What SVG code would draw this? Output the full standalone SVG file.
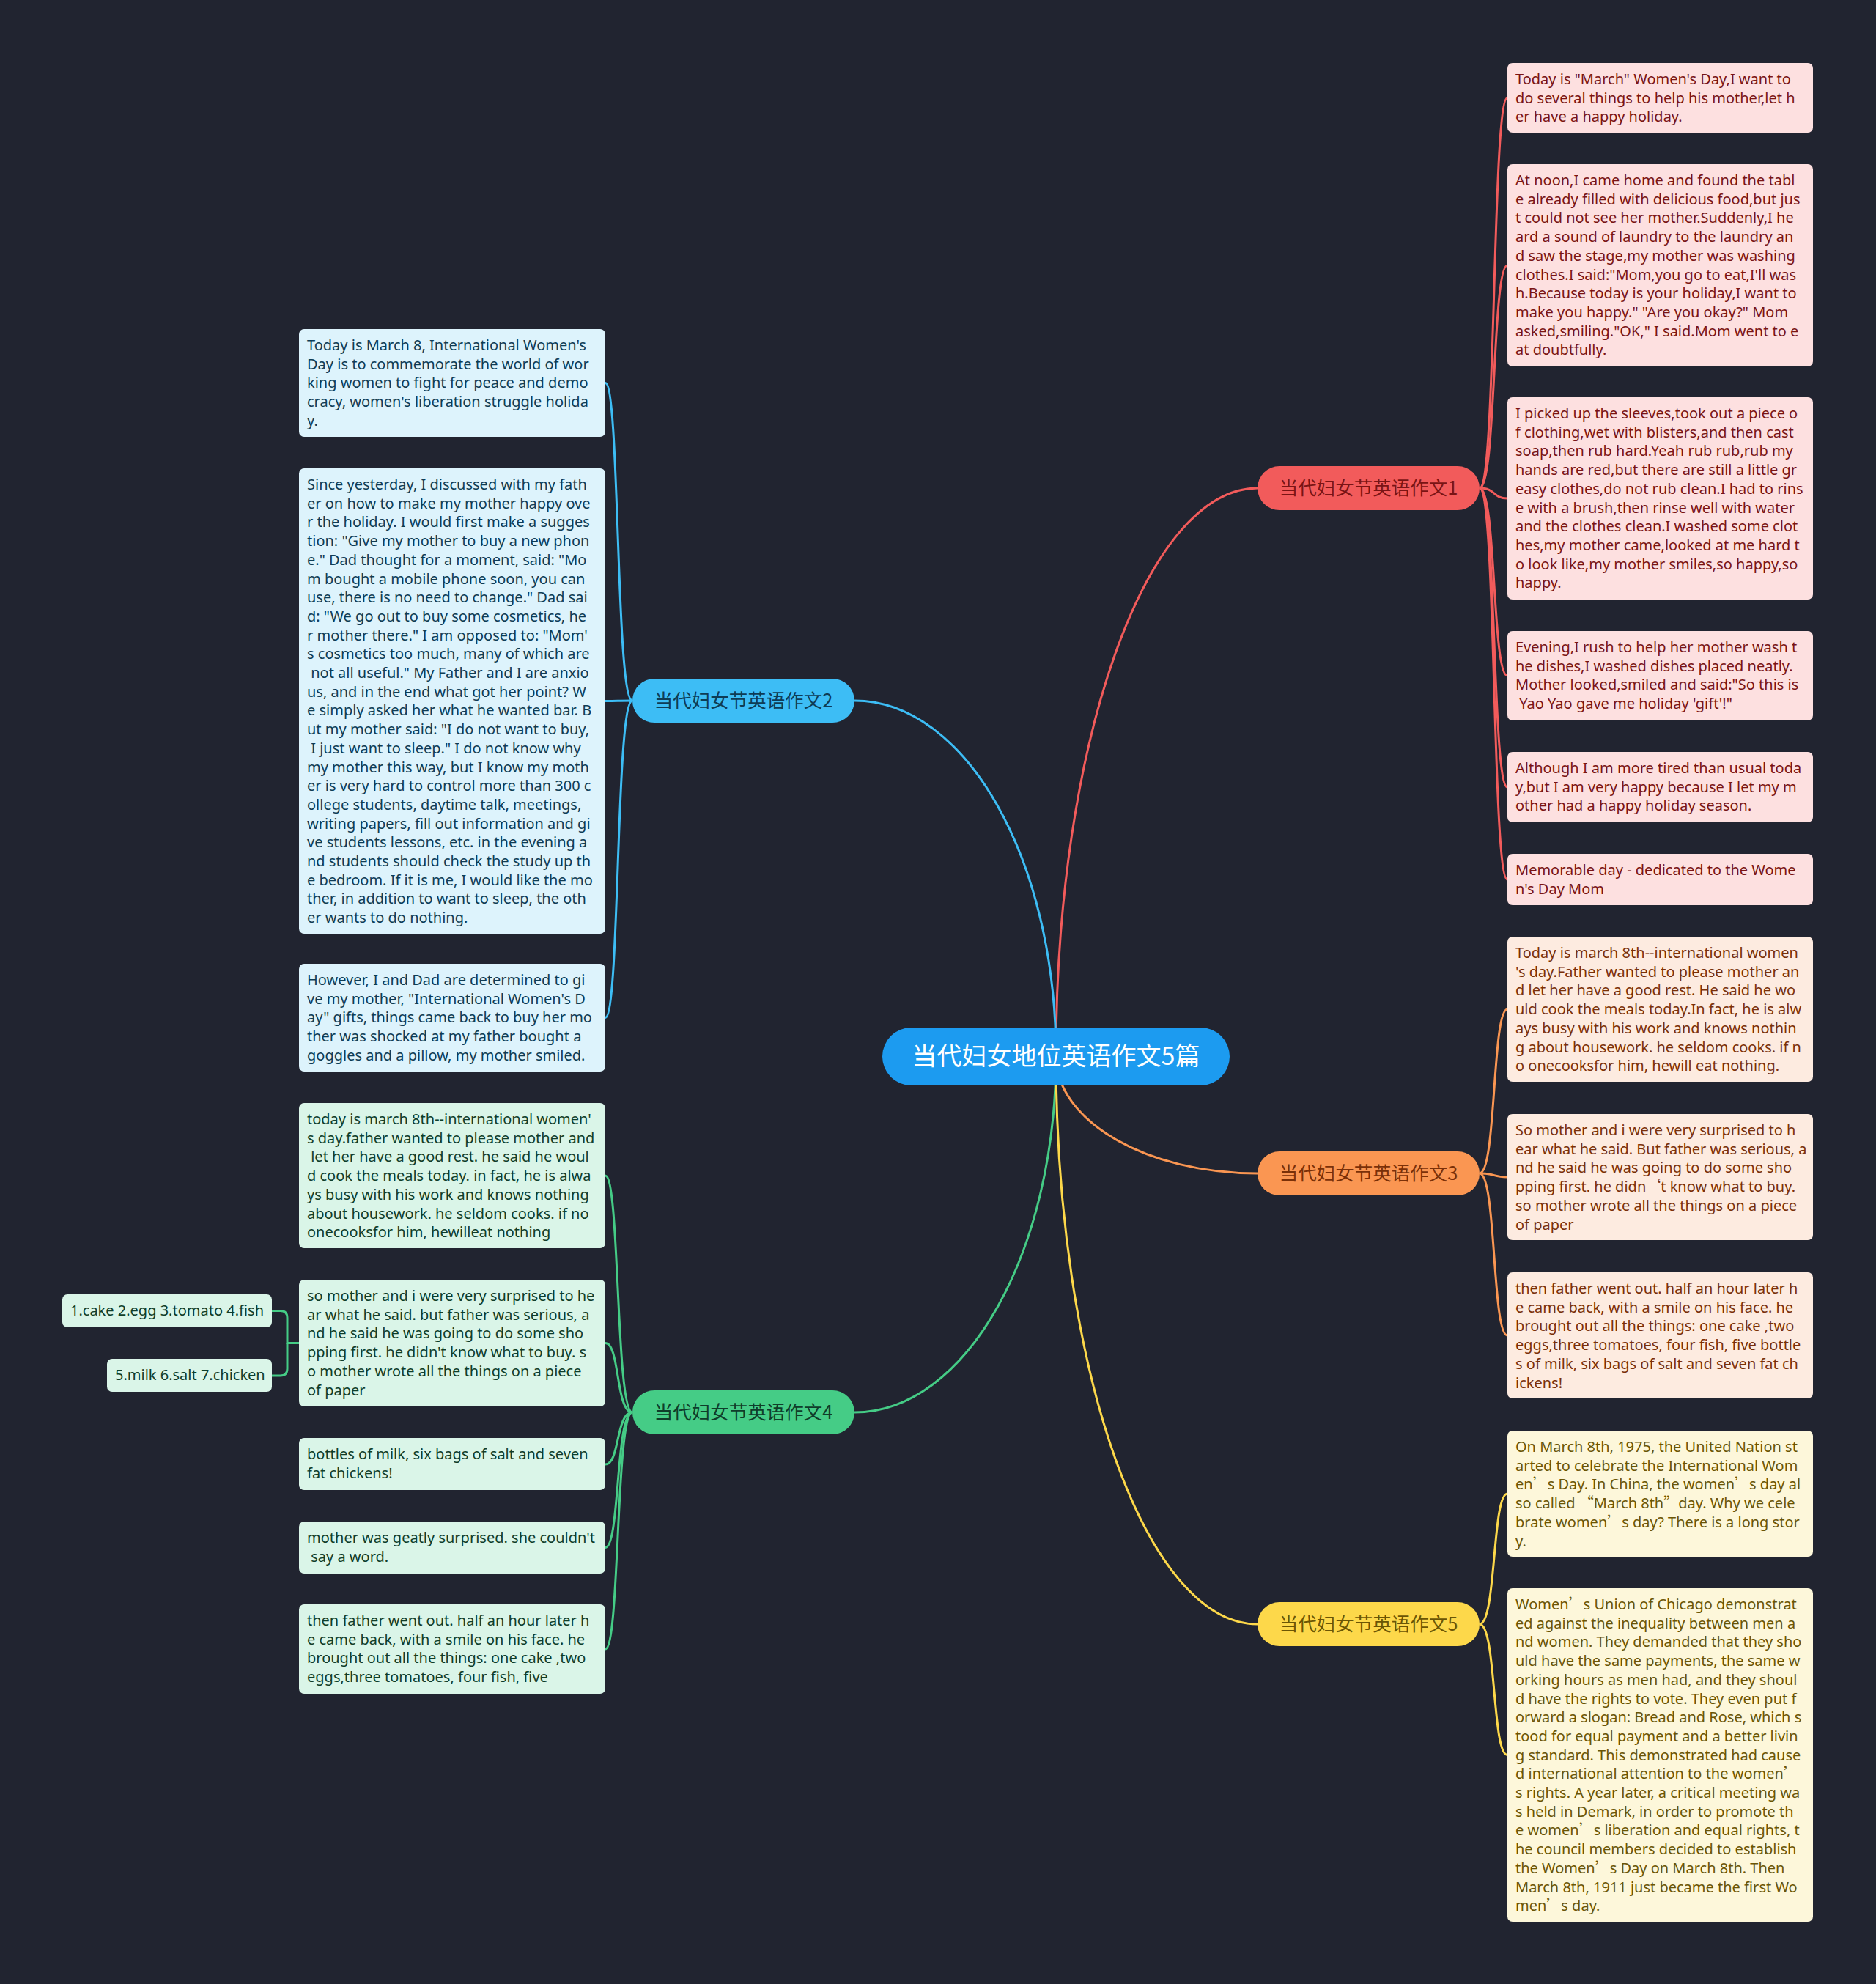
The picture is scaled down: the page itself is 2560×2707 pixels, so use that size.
<svg xmlns="http://www.w3.org/2000/svg" width="2560" height="2707" viewBox="0 0 2560 2707">
<style>
.t{font-family:"Noto Sans","Liberation Sans",sans-serif;font-size:20px}
.q{font-family:"Noto Sans CJK SC","Noto Sans",sans-serif}
.nt{font-family:"Noto Sans CJK SC","Noto Sans",sans-serif;font-size:25.5px;text-anchor:middle}
.ln{fill:none;stroke-width:3}
.r .card{fill:#fde0e0}.r text{fill:#7a1414}
.b .card{fill:#ddf3fc}.b text{fill:#0e3c55}
.o .card{fill:#fdebe0}.o text{fill:#7a3008}
.g .card{fill:#daf5e8}.g text{fill:#0f3d2a}
.y .card{fill:#fdf7da}.y text{fill:#6b5504}
</style>
<rect width="2560" height="2707" fill="#212430"/>
<g id="connectors" class="ln">
<path d="M1441,1441 C1441,1013 1564,666 1716,666" stroke="#f25b5b"/>
<path d="M1441,1441 C1441,1173 1318,956 1166,956" stroke="#3dbdf5"/>
<path d="M1441,1441 C1441,1529 1564,1601 1716,1601" stroke="#fa9652"/>
<path d="M1441,1441 C1441,1709 1318,1927 1166,1927" stroke="#45cc86"/>
<path d="M1441,1441 C1441,1869 1564,2216 1716,2216" stroke="#fdd84a"/>
<g stroke="#f25b5b">
<path d="M2019,666 C2042,666 2036,133.5 2057,133.5"/>
<path d="M2019,666 C2042,666 2036,362 2057,362"/>
<path d="M2019,666 C2042,666 2036,680 2057,680"/>
<path d="M2019,666 C2042,666 2036,922 2057,922"/>
<path d="M2019,666 C2042,666 2036,1074 2057,1074"/>
<path d="M2019,666 C2042,666 2036,1200 2057,1200"/>
</g>
<g stroke="#fa9652">
<path d="M2019,1601 C2042,1601 2036,1377 2057,1377"/>
<path d="M2019,1601 C2042,1601 2036,1606 2057,1606"/>
<path d="M2019,1601 C2042,1601 2036,1822 2057,1822"/>
</g>
<g stroke="#fdd84a">
<path d="M2019,2216 C2042,2216 2036,2038 2057,2038"/>
<path d="M2019,2216 C2042,2216 2036,2394.5 2057,2394.5"/>
</g>
<g stroke="#3dbdf5">
<path d="M863,956 C840,956 846,522.5 826,522.5"/>
<path d="M863,956 C840,956 846,956.5 826,956.5"/>
<path d="M863,956 C840,956 846,1388.5 826,1388.5"/>
</g>
<g stroke="#45cc86">
<path d="M863,1927 C840,1927 846,1604 826,1604"/>
<path d="M863,1927 C840,1927 846,1832.5 826,1832.5"/>
<path d="M863,1927 C840,1927 846,1998 826,1998"/>
<path d="M863,1927 C840,1927 846,2111.5 826,2111.5"/>
<path d="M863,1927 C840,1927 846,2250 826,2250"/>
<path d="M408,1832.5 L392,1832.5 L392,1798 Q392,1788.5 382.5,1788.5 L371,1788.5"/>
<path d="M392,1832.5 L392,1867.5 Q392,1877 382.5,1877 L371,1877"/>
</g>
</g>

<g id="center">
<rect x="1204" y="1402" width="474" height="79" rx="39.5" fill="#1c9bf0"/>
<text x="1441" y="1453" font-family="Noto Sans CJK SC, Noto Sans, sans-serif" font-size="34" fill="#ffffff" text-anchor="middle">当代妇女地位英语作文5篇</text>
</g>

<g id="branch1" class="r">
<rect x="1716" y="636" width="303" height="60" rx="30" fill="#f25b5b"/>
<text class="nt" x="1867.5" y="675">当代妇女节英语作文1</text>
</g>
<g id="branch2" class="b">
<rect x="863" y="926" width="303" height="60" rx="30" fill="#3dbdf5"/>
<text class="nt" x="1014.5" y="965">当代妇女节英语作文2</text>
</g>
<g id="branch3" class="o">
<rect x="1716" y="1571" width="303" height="60" rx="30" fill="#fa9652"/>
<text class="nt" x="1867.5" y="1610">当代妇女节英语作文3</text>
</g>
<g id="branch4" class="g">
<rect x="863" y="1897" width="303" height="60" rx="30" fill="#45cc86"/>
<text class="nt" x="1014.5" y="1936">当代妇女节英语作文4</text>
</g>
<g id="branch5" class="y">
<rect x="1716" y="2186" width="303" height="60" rx="30" fill="#fdd84a"/>
<text class="nt" x="1867.5" y="2225">当代妇女节英语作文5</text>
</g>

<g id="leaf1-1" class="r">
<rect class="card" x="2057" y="86" width="417" height="95" rx="7"/>
<text class="t" x="2068" y="115"><tspan x="2068">Today is "March" Women's Day,I want to</tspan><tspan x="2068" dy="25.7">do several things to help his mother,let h</tspan><tspan x="2068" dy="25.7">er have a happy holiday.</tspan></text>
</g>
<g id="leaf1-2" class="r">
<rect class="card" x="2057" y="224" width="417" height="276" rx="7"/>
<text class="t" x="2068" y="253"><tspan x="2068">At noon,I came home and found the tabl</tspan><tspan x="2068" dy="25.7">e already filled with delicious food,but jus</tspan><tspan x="2068" dy="25.7">t could not see her mother.Suddenly,I he</tspan><tspan x="2068" dy="25.7">ard a sound of laundry to the laundry an</tspan><tspan x="2068" dy="25.7">d saw the stage,my mother was washing</tspan><tspan x="2068" dy="25.7">clothes.I said:"Mom,you go to eat,I'll was</tspan><tspan x="2068" dy="25.7">h.Because today is your holiday,I want to</tspan><tspan x="2068" dy="25.7">make you happy." "Are you okay?" Mom</tspan><tspan x="2068" dy="25.7">asked,smiling."OK," I said.Mom went to e</tspan><tspan x="2068" dy="25.7">at doubtfully.</tspan></text>
</g>
<g id="leaf1-3" class="r">
<rect class="card" x="2057" y="542" width="417" height="276" rx="7"/>
<text class="t" x="2068" y="571"><tspan x="2068">I picked up the sleeves,took out a piece o</tspan><tspan x="2068" dy="25.7">f clothing,wet with blisters,and then cast</tspan><tspan x="2068" dy="25.7">soap,then rub hard.Yeah rub rub,rub my</tspan><tspan x="2068" dy="25.7">hands are red,but there are still a little gr</tspan><tspan x="2068" dy="25.7">easy clothes,do not rub clean.I had to rins</tspan><tspan x="2068" dy="25.7">e with a brush,then rinse well with water</tspan><tspan x="2068" dy="25.7">and the clothes clean.I washed some clot</tspan><tspan x="2068" dy="25.7">hes,my mother came,looked at me hard t</tspan><tspan x="2068" dy="25.7">o look like,my mother smiles,so happy,so</tspan><tspan x="2068" dy="25.7">happy.</tspan></text>
</g>
<g id="leaf1-4" class="r">
<rect class="card" x="2057" y="861" width="417" height="122" rx="7"/>
<text class="t" x="2068" y="890"><tspan x="2068">Evening,I rush to help her mother wash t</tspan><tspan x="2068" dy="25.7">he dishes,I washed dishes placed neatly.</tspan><tspan x="2068" dy="25.7">Mother looked,smiled and said:"So this is</tspan><tspan x="2068" dy="25.7">&#160;Yao Yao gave me holiday 'gift'!"</tspan></text>
</g>
<g id="leaf1-5" class="r">
<rect class="card" x="2057" y="1026" width="417" height="96" rx="7"/>
<text class="t" x="2068" y="1055"><tspan x="2068">Although I am more tired than usual toda</tspan><tspan x="2068" dy="25.7">y,but I am very happy because I let my m</tspan><tspan x="2068" dy="25.7">other had a happy holiday season.</tspan></text>
</g>
<g id="leaf1-6" class="r">
<rect class="card" x="2057" y="1165" width="417" height="70" rx="7"/>
<text class="t" x="2068" y="1194"><tspan x="2068">Memorable day - dedicated to the Wome</tspan><tspan x="2068" dy="25.7">n's Day Mom</tspan></text>
</g>

<g id="leaf3-1" class="o">
<rect class="card" x="2057" y="1278" width="417" height="198" rx="7"/>
<text class="t" x="2068" y="1307"><tspan x="2068">Today is march 8th--international women</tspan><tspan x="2068" dy="25.7">'s day.Father wanted to please mother an</tspan><tspan x="2068" dy="25.7">d let her have a good rest. He said he wo</tspan><tspan x="2068" dy="25.7">uld cook the meals today.In fact, he is alw</tspan><tspan x="2068" dy="25.7">ays busy with his work and knows nothin</tspan><tspan x="2068" dy="25.7">g about housework. he seldom cooks. if n</tspan><tspan x="2068" dy="25.7">o onecooksfor him, hewill eat nothing.</tspan></text>
</g>
<g id="leaf3-2" class="o">
<rect class="card" x="2057" y="1520" width="417" height="172" rx="7"/>
<text class="t" x="2068" y="1549"><tspan x="2068">So mother and i were very surprised to h</tspan><tspan x="2068" dy="25.7">ear what he said. But father was serious, a</tspan><tspan x="2068" dy="25.7">nd he said he was going to do some sho</tspan><tspan x="2068" dy="25.7">pping first. he didn<tspan class="q">‘</tspan>t know what to buy.</tspan><tspan x="2068" dy="25.7">so mother wrote all the things on a piece</tspan><tspan x="2068" dy="25.7">of paper</tspan></text>
</g>
<g id="leaf3-3" class="o">
<rect class="card" x="2057" y="1736" width="417" height="172" rx="7"/>
<text class="t" x="2068" y="1765"><tspan x="2068">then father went out. half an hour later h</tspan><tspan x="2068" dy="25.7">e came back, with a smile on his face. he</tspan><tspan x="2068" dy="25.7">brought out all the things: one cake ,two</tspan><tspan x="2068" dy="25.7">eggs,three tomatoes, four fish, five bottle</tspan><tspan x="2068" dy="25.7">s of milk, six bags of salt and seven fat ch</tspan><tspan x="2068" dy="25.7">ickens!</tspan></text>
</g>

<g id="leaf5-1" class="y">
<rect class="card" x="2057" y="1952" width="417" height="172" rx="7"/>
<text class="t" x="2068" y="1981"><tspan x="2068">On March 8th, 1975, the United Nation st</tspan><tspan x="2068" dy="25.7">arted to celebrate the International Wom</tspan><tspan x="2068" dy="25.7">en<tspan class="q">’</tspan>s Day. In China, the women<tspan class="q">’</tspan>s day al</tspan><tspan x="2068" dy="25.7">so called <tspan class="q">“</tspan>March 8th<tspan class="q">”</tspan>day. Why we cele</tspan><tspan x="2068" dy="25.7">brate women<tspan class="q">’</tspan>s day? There is a long stor</tspan><tspan x="2068" dy="25.7">y.</tspan></text>
</g>
<g id="leaf5-2" class="y">
<rect class="card" x="2057" y="2167" width="417" height="455" rx="7"/>
<text class="t" x="2068" y="2196"><tspan x="2068">Women<tspan class="q">’</tspan>s Union of Chicago demonstrat</tspan><tspan x="2068" dy="25.7">ed against the inequality between men a</tspan><tspan x="2068" dy="25.7">nd women. They demanded that they sho</tspan><tspan x="2068" dy="25.7">uld have the same payments, the same w</tspan><tspan x="2068" dy="25.7">orking hours as men had, and they shoul</tspan><tspan x="2068" dy="25.7">d have the rights to vote. They even put f</tspan><tspan x="2068" dy="25.7">orward a slogan: Bread and Rose, which s</tspan><tspan x="2068" dy="25.7">tood for equal payment and a better livin</tspan><tspan x="2068" dy="25.7">g standard. This demonstrated had cause</tspan><tspan x="2068" dy="25.7">d international attention to the women<tspan class="q">’</tspan></tspan><tspan x="2068" dy="25.7">s rights. A year later, a critical meeting wa</tspan><tspan x="2068" dy="25.7">s held in Demark, in order to promote th</tspan><tspan x="2068" dy="25.7">e women<tspan class="q">’</tspan>s liberation and equal rights, t</tspan><tspan x="2068" dy="25.7">he council members decided to establish</tspan><tspan x="2068" dy="25.7">the Women<tspan class="q">’</tspan>s Day on March 8th. Then</tspan><tspan x="2068" dy="25.7">March 8th, 1911 just became the first Wo</tspan><tspan x="2068" dy="25.7">men<tspan class="q">’</tspan>s day.</tspan></text>
</g>

<g id="leaf2-1" class="b">
<rect class="card" x="408" y="449" width="418" height="147" rx="7"/>
<text class="t" x="419" y="478"><tspan x="419">Today is March 8, International Women's</tspan><tspan x="419" dy="25.7">Day is to commemorate the world of wor</tspan><tspan x="419" dy="25.7">king women to fight for peace and demo</tspan><tspan x="419" dy="25.7">cracy, women's liberation struggle holida</tspan><tspan x="419" dy="25.7">y.</tspan></text>
</g>
<g id="leaf2-2" class="b">
<rect class="card" x="408" y="639" width="418" height="635" rx="7"/>
<text class="t" x="419" y="668"><tspan x="419">Since yesterday, I discussed with my fath</tspan><tspan x="419" dy="25.7">er on how to make my mother happy ove</tspan><tspan x="419" dy="25.7">r the holiday. I would first make a sugges</tspan><tspan x="419" dy="25.7">tion: "Give my mother to buy a new phon</tspan><tspan x="419" dy="25.7">e." Dad thought for a moment, said: "Mo</tspan><tspan x="419" dy="25.7">m bought a mobile phone soon, you can</tspan><tspan x="419" dy="25.7">use, there is no need to change." Dad sai</tspan><tspan x="419" dy="25.7">d: "We go out to buy some cosmetics, he</tspan><tspan x="419" dy="25.7">r mother there." I am opposed to: "Mom'</tspan><tspan x="419" dy="25.7">s cosmetics too much, many of which are</tspan><tspan x="419" dy="25.7">&#160;not all useful." My Father and I are anxio</tspan><tspan x="419" dy="25.7">us, and in the end what got her point? W</tspan><tspan x="419" dy="25.7">e simply asked her what he wanted bar. B</tspan><tspan x="419" dy="25.7">ut my mother said: "I do not want to buy,</tspan><tspan x="419" dy="25.7">&#160;I just want to sleep." I do not know why</tspan><tspan x="419" dy="25.7">my mother this way, but I know my moth</tspan><tspan x="419" dy="25.7">er is very hard to control more than 300 c</tspan><tspan x="419" dy="25.7">ollege students, daytime talk, meetings,</tspan><tspan x="419" dy="25.7">writing papers, fill out information and gi</tspan><tspan x="419" dy="25.7">ve students lessons, etc. in the evening a</tspan><tspan x="419" dy="25.7">nd students should check the study up th</tspan><tspan x="419" dy="25.7">e bedroom. If it is me, I would like the mo</tspan><tspan x="419" dy="25.7">ther, in addition to want to sleep, the oth</tspan><tspan x="419" dy="25.7">er wants to do nothing.</tspan></text>
</g>
<g id="leaf2-3" class="b">
<rect class="card" x="408" y="1315" width="418" height="147" rx="7"/>
<text class="t" x="419" y="1344"><tspan x="419">However, I and Dad are determined to gi</tspan><tspan x="419" dy="25.7">ve my mother, "International Women's D</tspan><tspan x="419" dy="25.7">ay" gifts, things came back to buy her mo</tspan><tspan x="419" dy="25.7">ther was shocked at my father bought a</tspan><tspan x="419" dy="25.7">goggles and a pillow, my mother smiled.</tspan></text>
</g>

<g id="leaf4-1" class="g">
<rect class="card" x="408" y="1505" width="418" height="198" rx="7"/>
<text class="t" x="419" y="1534"><tspan x="419">today is march 8th--international women'</tspan><tspan x="419" dy="25.7">s day.father wanted to please mother and</tspan><tspan x="419" dy="25.7">&#160;let her have a good rest. he said he woul</tspan><tspan x="419" dy="25.7">d cook the meals today. in fact, he is alwa</tspan><tspan x="419" dy="25.7">ys busy with his work and knows nothing</tspan><tspan x="419" dy="25.7">about housework. he seldom cooks. if no</tspan><tspan x="419" dy="25.7">onecooksfor him, hewilleat nothing</tspan></text>
</g>
<g id="leaf4-2" class="g">
<rect class="card" x="408" y="1746" width="418" height="173" rx="7"/>
<text class="t" x="419" y="1775"><tspan x="419">so mother and i were very surprised to he</tspan><tspan x="419" dy="25.7">ar what he said. but father was serious, a</tspan><tspan x="419" dy="25.7">nd he said he was going to do some sho</tspan><tspan x="419" dy="25.7">pping first. he didn't know what to buy. s</tspan><tspan x="419" dy="25.7">o mother wrote all the things on a piece</tspan><tspan x="419" dy="25.7">of paper</tspan></text>
</g>
<g id="leaf4-2a" class="g">
<rect class="card" x="85" y="1766" width="286" height="45" rx="7"/>
<text class="t" x="96" y="1795">1.cake 2.egg 3.tomato 4.fish</text>
</g>
<g id="leaf4-2b" class="g">
<rect class="card" x="146" y="1854" width="225" height="45" rx="7"/>
<text class="t" x="157" y="1883">5.milk 6.salt 7.chicken</text>
</g>
<g id="leaf4-3" class="g">
<rect class="card" x="408" y="1962" width="418" height="71" rx="7"/>
<text class="t" x="419" y="1991"><tspan x="419">bottles of milk, six bags of salt and seven</tspan><tspan x="419" dy="25.7">fat chickens!</tspan></text>
</g>
<g id="leaf4-4" class="g">
<rect class="card" x="408" y="2076" width="418" height="71" rx="7"/>
<text class="t" x="419" y="2105"><tspan x="419">mother was geatly surprised. she couldn't</tspan><tspan x="419" dy="25.7">&#160;say a word.</tspan></text>
</g>
<g id="leaf4-5" class="g">
<rect class="card" x="408" y="2189" width="418" height="122" rx="7"/>
<text class="t" x="419" y="2218"><tspan x="419">then father went out. half an hour later h</tspan><tspan x="419" dy="25.7">e came back, with a smile on his face. he</tspan><tspan x="419" dy="25.7">brought out all the things: one cake ,two</tspan><tspan x="419" dy="25.7">eggs,three tomatoes, four fish, five</tspan></text>
</g>
</svg>
